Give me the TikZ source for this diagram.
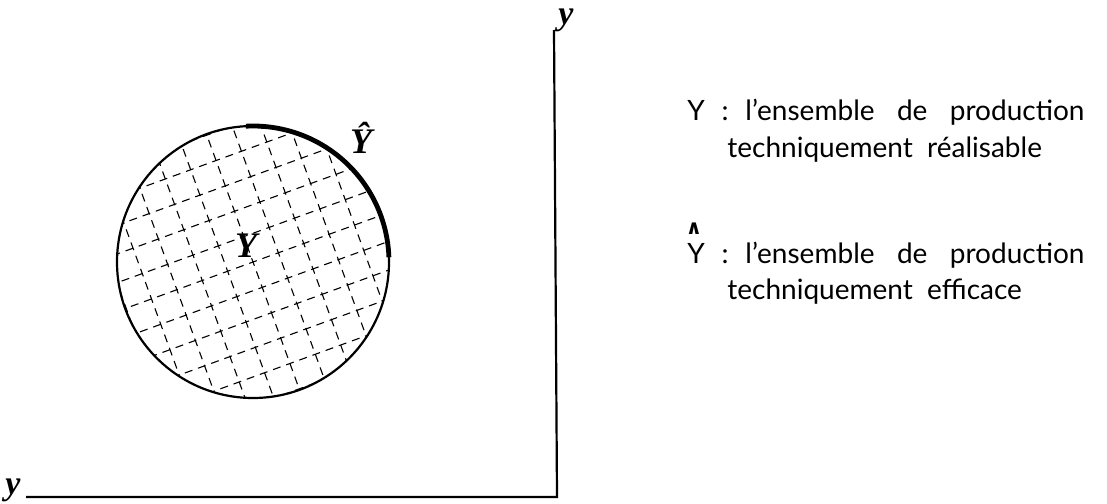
\documentclass[tikz,border=0pt]{standalone}
\usepackage{fontspec}
\setmainfont{Lato}
\newfontfamily\labelfont{Liberation Serif}
\newfontfamily\symfont{DejaVu Sans}
\usetikzlibrary{positioning, calc}

\begin{document}
\begin{tikzpicture}[
    x=0.5pt, y=-0.5pt,
    every node/.style={font=\fontsize{14}{17}\selectfont},
    axis/.style={line width=1.1pt},
    axislabel/.style={font=\labelfont\bfseries\itshape\fontsize{17}{19}\selectfont, inner sep=0pt},
    setlabel/.style={font=\labelfont\bfseries\itshape\fontsize{18}{20}\selectfont, inner sep=0pt},
    hatch/.style={line width=0.55pt, dash pattern=on 4pt off 3pt},
    legend/.style={anchor=base west, inner sep=0pt}
]
\useasboundingbox (0,0) rectangle (1107,503);

% axes
\coordinate (corner) at (557,497);
\node (ytop)  [axislabel] at (566,20) {y};
\node (yleft) [axislabel] at (13,490) {y};
\coordinate (topend) at (554,30);
\coordinate (leftend) at (26,497);
\draw [axis] (topend) -- (corner) -- (leftend);

% the set Y, hatched
\coordinate (c) at (253,262);
\begin{scope}
  \clip (c) circle [radius=136];
  \foreach \k in {-8,...,8} {
    \draw [hatch, rotate around={20:(c)}] ($(c)+(-200,\k*27)$) -- ($(c)+(200,\k*27)$);
    \draw [hatch, rotate around={20:(c)}] ($(c)+(\k*27,-200)$) -- ($(c)+(\k*27,200)$);
  }
\end{scope}
\draw [line width=1.1pt] (c) circle [radius=136];
% efficient frontier
\draw [line width=2.4pt] ($(c)+(-93:136)$) arc [start angle=-93, end angle=-2, radius=136];

\node (yset) [setlabel] at (246,246) {Y};
\node (yhat) [setlabel] at (361,138) {Ŷ};

% legend
\newcommand{\sgap}{\hspace{0.6em}}
\newcommand{\wgap}{\hspace{0.8em}}
\node (l1) [legend] at (687,120) {Y\sgap:\sgap l'ensemble\wgap de\wgap production};
\node (l2) [legend] at (727,157) {techniquement\ \ réalisable};
\node (hat) [inner sep=0pt, font=\symfont\bfseries\fontsize{10}{12}\selectfont] at (694,229) {∧};
\node (l3) [legend] at (687,263) {Y\sgap:\sgap l'ensemble\wgap de\wgap production};
\node (l4) [legend] at (727,299) {techniquement\ \ efficace};

\end{tikzpicture}
\end{document}
